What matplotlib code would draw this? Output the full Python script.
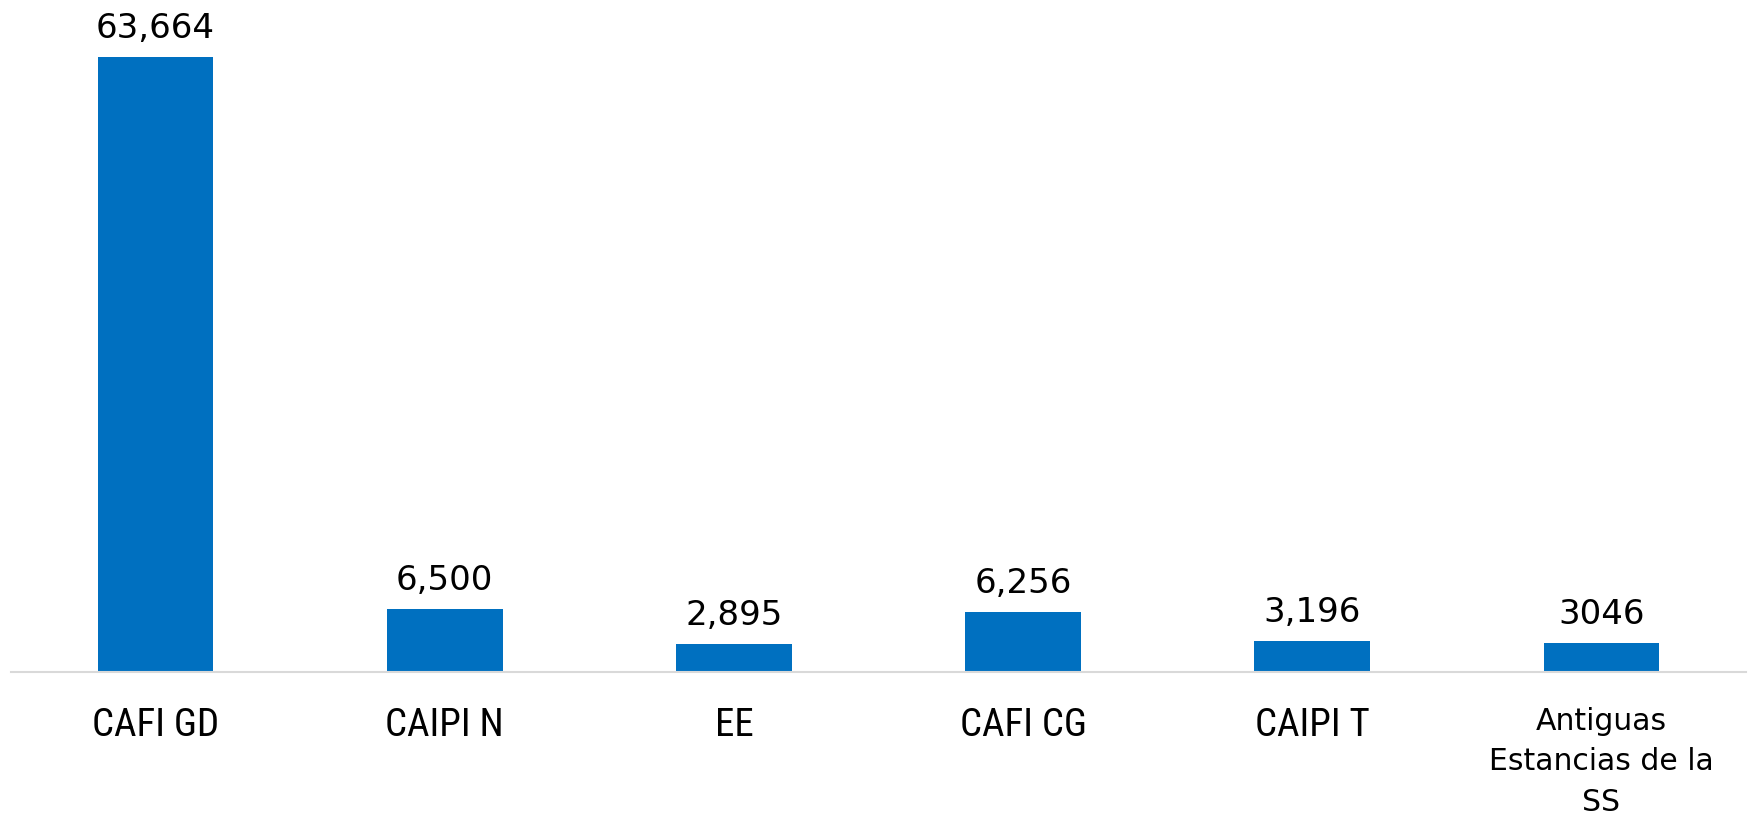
import matplotlib
matplotlib.use('Agg')
import matplotlib.pyplot as plt
from matplotlib import font_manager

categories = ['CAFI GD', 'CAIPI N', 'EE', 'CAFI CG', 'CAIPI T',
              'Antiguas\nEstancias de la\nSS']
values = [63664, 6500, 2895, 6256, 3196, 3046]
value_labels = ['63,664', '6,500', '2,895', '6,256', '3,196', '3046']

blue = '#0070C0'

# condensed face for the short labels, if one is around
names = set(f.name for f in font_manager.fontManager.ttflist)
narrow_font = None
for cand in ['Liberation Sans Narrow', 'Arial Narrow', 'Roboto Condensed',
             'Open Sans Condensed', 'Noto Sans Condensed']:
    if cand in names:
        narrow_font = cand
        break

fig = plt.figure(figsize=(17.48, 8.15), dpi=100)
ax = fig.add_axes([11 / 1748, 143 / 815, 1735 / 1748, 672 / 815])

x = list(range(len(categories)))
ax.bar(x, values, width=0.4, color=blue, zorder=2)

ax.set_xlim(-0.5, len(categories) - 0.5)
ax.set_ylim(0, 63664 * 672 / 615)

for i, v in enumerate(values):
    ax.annotate(value_labels[i], (i, v), xytext=(0, 13.5),
                textcoords='offset points', ha='center', va='baseline',
                fontsize=24.5, family='DejaVu Sans', color='#000000')

for s in ['top', 'right', 'left']:
    ax.spines[s].set_visible(False)
ax.spines['bottom'].set_color('#D9D9D9')
ax.spines['bottom'].set_linewidth(1.5)
ax.set_yticks([])
ax.set_xticks(x)
ax.set_xticklabels(categories)
ax.tick_params(axis='x', length=0, pad=25)
for lab in ax.get_xticklabels():
    if '\n' in lab.get_text():
        lab.set_family('DejaVu Sans')
        lab.set_fontsize(21.5)
        lab.set_linespacing(1.5)
    elif narrow_font:
        lab.set_family(narrow_font)
        lab.set_fontsize(28)
    else:
        lab.set_family(['Liberation Sans', 'DejaVu Sans'])
        lab.set_fontsize(24)

fig.savefig('out.png', dpi=100)
